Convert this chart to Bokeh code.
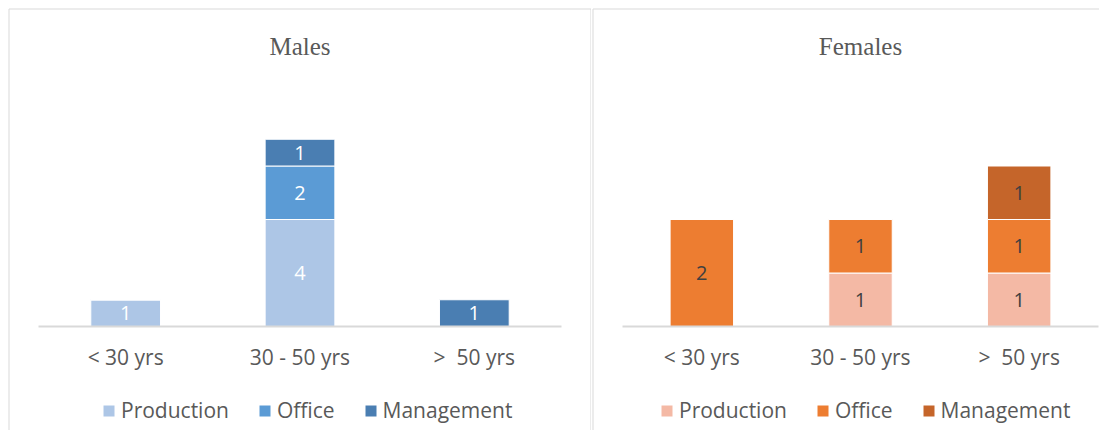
from bokeh.plotting import figure
from bokeh.models import (Range1d, ColumnDataSource, LabelSet, Legend, LegendItem,
                          Label, FixedTicker)
from bokeh.core.properties import value
from bokeh.layouts import row
from bokeh.embed import file_html
from bokeh.resources import INLINE

# ---------------- data ----------------
categories = ["< 30 yrs", "30 - 50 yrs", "> \u00a050 yrs"]
series = ["Production", "Office", "Management"]

male_production = [1, 4, 0]
male_office = [0, 2, 0]
male_management = [0, 1, 1]

female_production = [0, 1, 1]
female_office = [2, 1, 1]
female_management = [0, 0, 1]

male_axis_max = 8
female_axis_max = 4

# ---------------- style / layout ----------------
male_colors = ["#adc6e6", "#5b9bd5", "#4a7eb2"]
female_colors = ["#f4b9a5", "#ed7d31", "#c5652a"]
GRID = "#d9d9d9"
TXT = "#595959"

H = 430          # canvas height
TOP = 112        # top of value axis (px)
BASE = 326       # baseline y (px)
TITLE_Y = 46


def panel(title, values, colors, label_color, ymax, width, cat_left, cat_right,
          borders, legend_loc):
    xs = list(range(1, len(categories) + 1))
    data = {"x": xs}
    for name, vals in zip(series, values):
        data[name] = vals
    src = ColumnDataSource(data)

    ppx = (cat_right - cat_left) / len(categories)
    x0 = 0.5 - cat_left / ppx
    x1 = len(categories) + 0.5 + (width - cat_right) / ppx
    ppu = (BASE - TOP) / ymax
    y1 = BASE / ppu
    y0 = -(H - BASE) / ppu

    p = figure(x_range=Range1d(x0, x1), y_range=Range1d(y0, y1),
               width=width, height=H, output_backend="svg", toolbar_location=None,
               min_border_left=0, min_border_right=0,
               min_border_top=0, min_border_bottom=0)
    p.extra_x_ranges = {"px": Range1d(0, width)}
    p.extra_y_ranges = {"px": Range1d(H, 0)}

    # panel border (decoration, pixel coordinates)
    bx0, by0, bx1, by1 = zip(*borders)
    p.segment(x0=list(bx0), y0=list(by0), x1=list(bx1), y1=list(by1),
              x_range_name="px", y_range_name="px", line_color=GRID, line_width=1)

    rs = p.vbar_stack(series, x="x", width=0.4, color=colors, source=src,
                      line_color="white", line_width=1)

    lx, ly, lt = [], [], []
    for i, xv in enumerate(xs):
        base = 0
        for vals in values:
            v = vals[i]
            if v:
                lx.append(xv)
                ly.append(base + v / 2)
                lt.append(str(v))
            base += v
    lsrc = ColumnDataSource(dict(x=lx, y=ly, t=lt))
    p.add_layout(LabelSet(x="x", y="y", text="t", source=lsrc,
                          text_align="center", text_baseline="middle",
                          text_font=value("Open Sans"), text_font_size=value("20px"),
                          text_color=value(label_color)))

    p.add_layout(Label(x=(len(categories) + 1) / 2, y=TITLE_Y, y_range_name="px",
                       text=title, text_align="center", text_baseline="alphabetic",
                       text_font="Liberation Serif", text_font_size="25px",
                       text_color=TXT))

    p.xaxis.fixed_location = 0
    p.xaxis.bounds = (0.5, len(categories) + 0.5)
    p.xaxis.ticker = FixedTicker(ticks=xs)
    p.xaxis.major_label_overrides = {xv: c for xv, c in zip(xs, categories)}
    p.xaxis.axis_line_color = GRID
    p.xaxis.axis_line_width = 2
    p.xaxis.major_tick_line_color = None
    p.xaxis.minor_tick_line_color = None
    p.xaxis.major_label_text_font = "Open Sans"
    p.xaxis.major_label_text_font_size = "21px"
    p.xaxis.major_label_text_color = TXT
    p.xaxis.major_label_standoff = 10
    p.yaxis.visible = False
    p.xgrid.visible = False
    p.ygrid.visible = False
    p.outline_line_color = None

    legend = Legend(items=[LegendItem(label=n, renderers=[r]) for n, r in zip(series, rs)],
                    orientation="horizontal", location=legend_loc,
                    glyph_width=15, glyph_height=15, label_standoff=5, spacing=28,
                    label_text_font="Open Sans", label_text_font_size="21px",
                    label_text_color=TXT, border_line_color=None,
                    background_fill_alpha=0, padding=0, margin=0)
    p.add_layout(legend, "center")
    return p


W1, W2 = 591, 508
p1 = panel("Males", [male_production, male_office, male_management], male_colors,
           "white", male_axis_max, W1, 38, 561,
           [(8.5, 8.5, 590.5, 8.5), (8.5, 8.5, 8.5, H), (590.5, 8.5, 590.5, H)],
           (101, 6))
p2 = panel("Females", [female_production, female_office, female_management], female_colors,
           "#404040", female_axis_max, W2, 31, 507,
           [(1.5, 8.5, W2, 8.5), (1.5, 8.5, 1.5, H)],
           (68, 6))

layout = row(p1, p2)
open("out.html", "w").write(file_html(layout, INLINE))
